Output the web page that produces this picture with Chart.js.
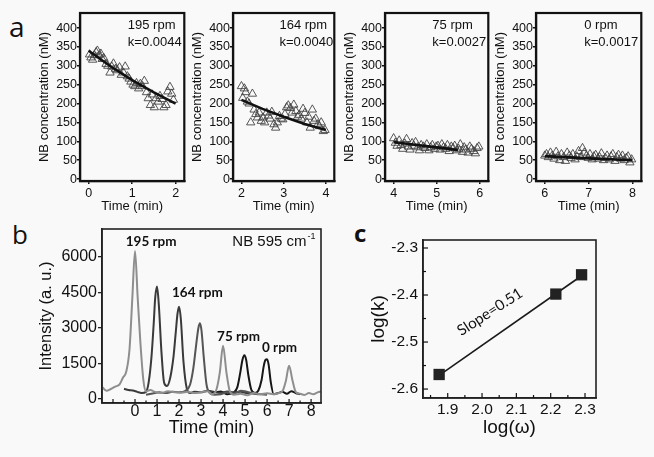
<!DOCTYPE html>
<html><head><meta charset="utf-8">
<script src="https://cdn.jsdelivr.net/npm/chart.js@4/dist/chart.umd.min.js"></script>
<style>
html,body{margin:0;padding:0;background:#f9f9f9;}
body{width:654px;height:457px;position:relative;overflow:hidden;font-family:"Liberation Sans",Arial,sans-serif;}
canvas{position:absolute;}
.lab{position:absolute;font-family:"Open Sans",sans-serif;color:#111;line-height:1;}
</style></head><body>
<div class="lab" style="left:9px;top:12px;font-size:28px;">a</div>
<div class="lab" style="left:12px;top:221px;font-size:26px;">b</div>
<div class="lab" style="left:354px;top:221px;font-size:24px;font-weight:700;">c</div>
<canvas id="a1" width="162" height="215" style="left:28px;top:0;width:162px;height:215px"></canvas>
<canvas id="a2" width="159" height="215" style="left:181px;top:0;width:159px;height:215px"></canvas>
<canvas id="a3" width="161" height="215" style="left:333px;top:0;width:161px;height:215px"></canvas>
<canvas id="a4" width="163" height="215" style="left:484px;top:0;width:163px;height:215px"></canvas>
<canvas id="b" width="296" height="226" style="left:30px;top:215px;width:296px;height:226px"></canvas>
<canvas id="c" width="244" height="225" style="left:360px;top:215px;width:244px;height:225px"></canvas>
<script>
// ---------- DATA ----------
const concTicks = [0,50,100,150,200,250,300,350,400];
const rpmLabels = ['195 rpm','164 rpm','75 rpm','0 rpm'];
const kLabels = ['k=0.0044','k=0.0040','k=0.0027','k=0.0017'];

const time195 = [0.02,0.05,0.09,0.13,0.17,0.2,0.24,0.28,0.31,0.35,0.4,0.44,0.49,0.53,0.57,0.62,0.66,0.71,0.75,0.8,0.84,0.89,0.93,0.97,1.02,1.06,1.1,1.15,1.19,1.24,1.28,1.33,1.37,1.42,1.46,1.51,1.55,1.6,1.64,1.69,1.73,1.78,1.82,1.87,1.91,1.95];
const conc195 = [330,322,316,328,336,340,328,332,318,320,305,300,282,298,306,292,288,296,276,282,298,272,266,258,250,246,254,240,252,246,260,230,214,196,224,190,214,205,220,212,190,196,232,244,226,210];
const fitTime195 = [0,0.5,1,1.5,2];
const fitConc195 = [340,299,262,230,200];

const time164 = [2.0,2.03,2.07,2.1,2.14,2.18,2.22,2.26,2.3,2.34,2.38,2.42,2.47,2.51,2.55,2.6,2.64,2.68,2.72,2.77,2.81,2.85,2.9,2.94,2.98,3.03,3.07,3.11,3.16,3.2,3.24,3.29,3.33,3.37,3.42,3.46,3.5,3.55,3.59,3.63,3.68,3.72,3.76,3.81,3.85,3.89,3.94,3.98];
const conc164 = [246,215,240,230,205,200,150,226,184,172,163,176,154,163,150,176,168,160,178,145,136,150,167,160,158,172,190,195,188,176,197,180,165,170,160,186,175,150,165,136,184,154,160,145,140,150,127,130];
const fitTime164 = [2,2.5,3,3.5,4];
const fitConc164 = [210,186,165,146,130];

const time75 = [4.0,4.04,4.08,4.13,4.17,4.21,4.26,4.3,4.34,4.38,4.43,4.47,4.51,4.56,4.6,4.64,4.69,4.73,4.77,4.82,4.86,4.9,4.95,4.99,5.03,5.08,5.12,5.16,5.21,5.25,5.29,5.34,5.38,5.42,5.47,5.51,5.55,5.6,5.64,5.68,5.73,5.77,5.81,5.86,5.9,5.94,5.98];
const conc75 = [108,96,88,102,90,80,94,106,86,78,95,88,98,84,76,90,86,82,92,76,84,90,80,86,88,78,92,84,80,90,74,86,82,88,76,80,92,72,84,78,70,86,80,74,68,82,86];
const fitTime75 = [4,4.5,5,5.5];
const fitConc75 = [98,91,84,77];

const time0 = [6.0,6.04,6.08,6.13,6.17,6.21,6.26,6.3,6.34,6.38,6.43,6.47,6.51,6.56,6.6,6.64,6.69,6.73,6.77,6.82,6.86,6.9,6.95,6.99,7.03,7.08,7.12,7.16,7.21,7.25,7.29,7.34,7.38,7.42,7.47,7.51,7.55,7.6,7.64,7.68,7.73,7.77,7.81,7.86,7.9,7.94,7.98];
const conc0 = [62,66,58,70,62,54,72,60,50,66,58,48,70,62,56,66,52,60,74,58,82,70,62,56,66,52,60,64,54,58,68,50,56,62,52,60,66,48,58,64,54,62,50,56,60,44,52];
const fitTime0 = [6,7,8];
const fitConc0 = [61,55,50];

const panelStarts = [0,2,4,6];

// panel b traces
const intensityTicks = [0,1500,3000,4500,6000];
const timeTicksB = [0,1,2,3,4,5,6,7,8];
const grayT = [-1.5,-1.3,-1.1,-0.9,-0.7,-0.55,-0.4,-0.25,-0.12,0,0.12,0.25,0.38,0.5,0.7,0.9,1.2,1.5,1.8,2.1,2.4,2.7,3.0,3.3,3.5,3.7,3.85,4.0,4.15,4.3,4.5,4.8,5.1,5.4,5.7,6.0,6.3,6.5,6.7,6.85,7.0,7.15,7.3,7.5,7.7,7.9,8.1,8.3,8.45];
const grayI = [520,350,420,520,620,900,1150,2100,4300,6250,4300,2300,800,320,380,300,250,330,280,260,300,250,280,330,200,400,1100,2250,1150,350,180,220,160,250,200,240,200,240,330,750,1400,800,300,220,170,250,200,280,320];
const darkT = [-0.5,-0.3,-0.1,0.1,0.3,0.5,0.62,0.75,0.85,0.92,1.0,1.08,1.2,1.32,1.45,1.6,1.75,1.85,1.93,2.0,2.08,2.2,2.35,2.5,2.7,3.0,3.3,3.6,3.9,4.2,4.5,4.8,5.1,5.4];
const darkI = [430,380,360,300,250,300,700,1800,3200,4300,4750,4000,2000,700,550,900,1800,2800,3600,3900,3400,1600,450,250,300,280,350,300,250,320,280,300,250,280];
const midT = [0.5,0.8,1.1,1.4,1.7,2.0,2.3,2.5,2.65,2.78,2.88,2.95,3.02,3.12,3.25,3.4,3.6,3.9,4.2,4.5,4.8,5.1,5.4,5.7,6.0];
const midI = [180,230,280,250,300,280,350,600,1300,2300,3000,3200,2900,1800,600,250,180,200,280,220,350,300,220,200,180];
const blackT = [3.3,3.6,3.9,4.2,4.5,4.65,4.78,4.88,4.97,5.05,5.15,5.28,5.45,5.6,5.75,5.85,5.93,6.0,6.07,6.17,6.3,6.5,6.7,6.9,7.1,7.3,7.5];
const blackI = [350,280,320,200,280,500,1100,1650,1850,1650,1000,400,250,350,800,1400,1650,1680,1450,700,200,250,300,220,330,250,200];

// panel c
const logOmega = [1.875,2.215,2.290];
const logK = [-2.569,-2.398,-2.357];
const fitLogOmega = [1.875,2.290];
const fitLogK = [-2.571,-2.359];
const logwTicks = [1.9,2.0,2.1,2.2,2.3];
const logkTicks = [-2.6,-2.5,-2.4,-2.3];

// ---------- PLUGINS ----------
const AR = '"Liberation Sans", Arial, sans-serif';
const pts = (xs, ys) => xs.map((x,i)=>({x, y: ys[i]}));

const framePlugin = {
  id:'frame',
  afterDatasetsDraw(chart, args, o){
    const {ctx, chartArea:a} = chart;
    ctx.save(); ctx.strokeStyle = o.color || '#111'; ctx.lineWidth = o.width || 1.5;
    ctx.strokeRect(a.left, a.top, a.right-a.left, a.bottom-a.top); ctx.restore();
  }
};
const innerTicks = {
  id:'innerTicks',
  afterDraw(chart, args, o){
    const {ctx, chartArea:a, scales} = chart;
    ctx.save(); ctx.strokeStyle = '#111'; ctx.lineWidth = o.width || 1.2;
    const xs = o.x || [], ys = o.y || [];
    xs.forEach(t => { const p = scales.x.getPixelForValue(t[0]); ctx.beginPath(); ctx.moveTo(p, a.bottom); ctx.lineTo(p, a.bottom - t[1]); ctx.stroke(); });
    ys.forEach(t => { const p = scales.y.getPixelForValue(t[0]); ctx.beginPath(); ctx.moveTo(a.left, p); ctx.lineTo(a.left + t[1], p); ctx.stroke(); });
    ctx.restore();
  }
};
const notesPlugin = {
  id:'notes',
  afterDraw(chart, args, o){
    const {ctx, scales:{x, y}} = chart;
    (o.items || []).forEach(n => {
      ctx.save();
      ctx.font = n.font; ctx.fillStyle = n.color || '#111';
      ctx.textAlign = n.align || 'left'; ctx.textBaseline = 'middle';
      ctx.translate(x.getPixelForValue(n.x), y.getPixelForValue(n.y));
      if (n.rot) ctx.rotate(n.rot * Math.PI / 180);
      ctx.fillText(n.text, 0, 0);
      if (n.sup) { const w = ctx.measureText(n.text).width; ctx.font = n.supFont; ctx.fillText(n.sup, w + 1, -6); }
      ctx.restore();
    });
  }
};

const base = { responsive:false, animation:false, events:[] };

// ---------- PANEL A ----------
function panelA(id, idx, times, concs, fitT, fitC){
  const s = panelStarts[idx];
  new Chart(document.getElementById(id), {
    type:'scatter',
    data:{datasets:[
      {data: pts(fitT, fitC), showLine:true, pointRadius:0, borderColor:'#111', borderWidth:2.6, order:0},
      {data: pts(times, concs), pointStyle:'triangle', pointRadius:4.8, borderColor:'#444', borderWidth:0.9, backgroundColor:'rgba(0,0,0,0)', order:1}
    ]},
    options:{...base,
      layout:{padding:{left:0, top:13, right:5, bottom:0}},
      plugins:{legend:{display:false}, tooltip:{enabled:false},
        frame:{width:2.2, color:'#111'},
        notes:{items:[
          {text:rpmLabels[idx], x:s+0.9, y:408, font:'13px '+AR},
          {text:kLabels[idx], x:s+0.9, y:362, font:'13px '+AR}
        ]}
      },
      scales:{
        x:{type:'linear', min:s-0.2, max:s+2.2,
          afterBuildTicks: sc => { sc.ticks = [s, s+1, s+2].map(v=>({value:v})); },
          afterFit: sc => { sc.height = 34; },
          grid:{drawOnChartArea:false, tickLength:3, color:'#111', lineWidth:1.5},
          border:{color:'#111', width:2.2},
          ticks:{color:'#111', font:{family:AR, size:12.5}, padding:2, maxRotation:0},
          title:{display:true, text:'Time (min)', color:'#111', font:{family:AR, size:13}, padding:{top:0, bottom:1}}
        },
        y:{type:'linear', min:-5, max:440,
          afterBuildTicks: sc => { sc.ticks = concTicks.map(v=>({value:v})); },
          afterFit: sc => { sc.width = 52; },
          grid:{drawOnChartArea:false, tickLength:3, color:'#111', lineWidth:1.5},
          border:{color:'#111', width:2.2},
          ticks:{color:'#111', font:{family:AR, size:12.5}, padding:0},
          title:{display:true, text:'NB concentration (nM)', color:'#111', font:{family:AR, size:13}, padding:{top:9, bottom:0}}
        }
      }
    },
    plugins:[framePlugin, notesPlugin]
  });
}
panelA('a1', 0, time195, conc195, fitTime195, fitConc195);
panelA('a2', 1, time164, conc164, fitTime164, fitConc164);
panelA('a3', 2, time75, conc75, fitTime75, fitConc75);
panelA('a4', 3, time0, conc0, fitTime0, fitConc0);

// ---------- PANEL B ----------
const lb = (xs, ys, col, w) => ({data: pts(xs, ys), showLine:true, pointRadius:0, borderColor:col, borderWidth:w, cubicInterpolationMode:'monotone'});
const halfTicks = [];
for (let t = -1; t <= 8; t += 0.5) halfTicks.push([t, Number.isInteger(t) ? 4 : 2.5]);
const BOLD = 'bold 13.5px Lato, "Open Sans", sans-serif';
new Chart(document.getElementById('b'), {
  type:'scatter',
  data:{datasets:[
    lb(grayT, grayI, '#8e8e8e', 2),
    lb(midT, midI, '#555555', 2),
    lb(darkT, darkI, '#3a3a3a', 2),
    lb(blackT, blackI, '#161616', 2)
  ]},
  options:{...base,
    layout:{padding:{left:0, top:14, right:5, bottom:0}},
    plugins:{legend:{display:false}, tooltip:{enabled:false},
      frame:{width:1.6, color:'#222'},
      innerTicks:{x: halfTicks, width:1.2},
      notes:{items:[
        {text:'195 rpm', x:-0.42, y:6630, font:BOLD},
        {text:'164 rpm', x:1.68, y:4480, font:BOLD},
        {text:'75 rpm', x:3.73, y:2620, font:BOLD},
        {text:'0 rpm', x:5.77, y:2160, font:BOLD},
        {text:'NB 595 cm', x:4.42, y:6630, font:'15px '+AR, sup:'-1', supFont:'9px '+AR}
      ]}
    },
    scales:{
      x:{type:'linear', min:-1.5, max:8.45,
        afterBuildTicks: sc => { sc.ticks = timeTicksB.map(v=>({value:v})); },
        afterFit: sc => { sc.height = 38; },
        grid:{display:false, drawOnChartArea:false, drawTicks:false},
        border:{color:'#222', width:1.6},
        ticks:{color:'#111', font:{family:AR, size:16, lineHeight:1}, padding:1, maxRotation:0},
        title:{display:true, text:'Time (min)', color:'#111', font:{family:AR, size:18}, padding:{top:0, bottom:2}}
      },
      y:{type:'linear', min:-170, max:7180,
        afterBuildTicks: sc => { sc.ticks = intensityTicks.map(v=>({value:v})); },
        afterFit: sc => { sc.width = 72; },
        grid:{drawOnChartArea:false, tickLength:4, color:'#222', lineWidth:1.3},
        border:{color:'#222', width:1.6},
        ticks:{color:'#111', font:{family:AR, size:16}, padding:1, callback: v => String(v)},
        title:{display:true, text:'Intensity (a. u.)', color:'#111', font:{family:AR, size:16.5}, padding:{top:7, bottom:0}}
      }
    }
  },
  plugins:[framePlugin, innerTicks, notesPlugin]
});

// ---------- PANEL C ----------
const cxTicks = [], cyTicks = [];
for (let v = 1.85; v <= 2.331; v += 0.05) cxTicks.push([v, Math.abs(v*10 - Math.round(v*10)) < 0.01 ? 5 : 3]);
for (let v = -2.6; v <= -2.29; v += 0.05) cyTicks.push([v, Math.abs(v*10 - Math.round(v*10)) < 0.01 ? 5 : 3]);
new Chart(document.getElementById('c'), {
  type:'scatter',
  data:{datasets:[
    {data: pts(fitLogOmega, fitLogK), showLine:true, pointRadius:0, borderColor:'#1a1a1a', borderWidth:1.6, order:1},
    {data: pts(logOmega, logK), pointStyle:'rect', pointRadius:8, backgroundColor:'#222', borderColor:'#222', borderWidth:0, order:0}
  ]},
  options:{...base,
    layout:{padding:{left:0, top:25, right:6, bottom:0}},
    plugins:{legend:{display:false}, tooltip:{enabled:false},
      frame:{width:1.6, color:'#222'},
      innerTicks:{x: cxTicks, y: cyTicks, width:1.2},
      notes:{items:[
        {text:'Slope=0.51', x:2.023, y:-2.436, align:'center', rot:-33, font:'15px Lato, "Open Sans", sans-serif'}
      ]}
    },
    scales:{
      x:{type:'linear', min:1.828, max:2.332,
        afterBuildTicks: sc => { sc.ticks = logwTicks.map(v=>({value:v})); },
        afterFit: sc => { sc.height = 42; },
        grid:{display:false, drawOnChartArea:false, drawTicks:false},
        border:{color:'#222', width:1.6},
        ticks:{color:'#111', font:{family:AR, size:15.5, lineHeight:1}, padding:4, maxRotation:0, callback: v => v.toFixed(1)},
        title:{display:true, text:'log(ω)', color:'#111', font:{family:AR, size:19}, padding:{top:0, bottom:1}}
      },
      y:{type:'linear', min:-2.619, max:-2.283,
        afterBuildTicks: sc => { sc.ticks = logkTicks.map(v=>({value:v})); },
        afterFit: sc => { sc.width = 63; },
        grid:{display:false, drawOnChartArea:false, drawTicks:false},
        border:{color:'#222', width:1.6},
        ticks:{color:'#111', font:{family:AR, size:15.5}, padding:5, callback: v => v.toFixed(1)},
        title:{display:true, text:'log(k)', color:'#111', font:{family:AR, size:19}, padding:{top:7, bottom:0}}
      }
    }
  },
  plugins:[framePlugin, innerTicks, notesPlugin]
});
</script>
</body></html>
